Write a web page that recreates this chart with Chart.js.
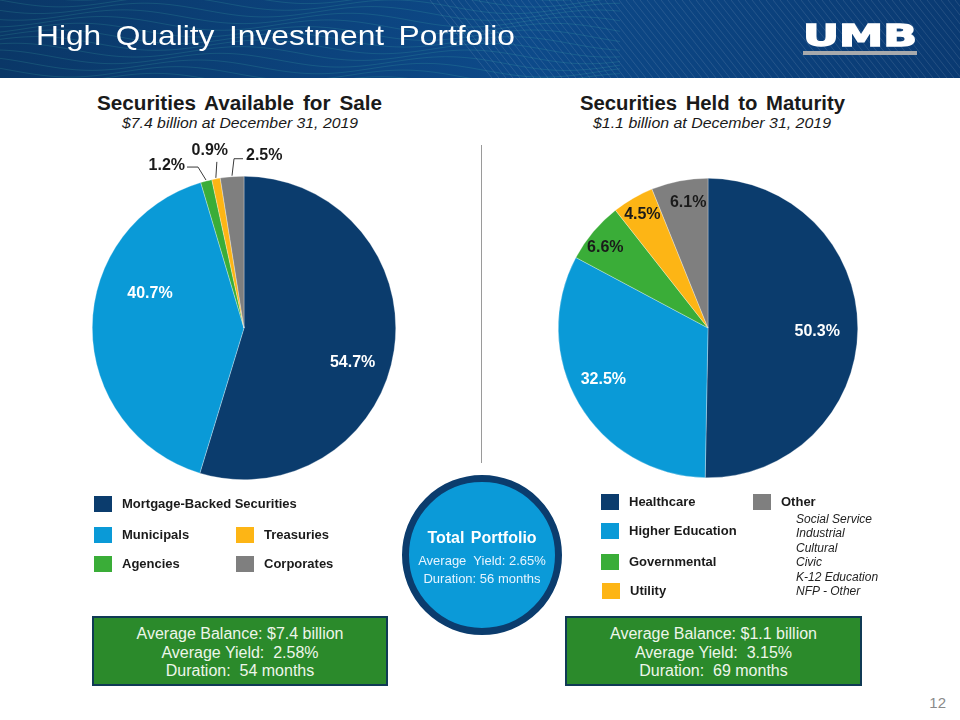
<!DOCTYPE html>
<html>
<head>
<meta charset="utf-8">
<script src="https://cdn.jsdelivr.net/npm/chart.js@4.4.1/dist/chart.umd.min.js"></script>
<style>
  body { margin: 0; width: 960px; height: 720px; position: relative; overflow: hidden; background: #fff;
         font-family: "Liberation Sans", Arial, sans-serif; color: #1a1a1a; }
  .abs { position: absolute; white-space: nowrap; }
  #header { position: absolute; left: 0; top: 0; }
  .title { color: #fff; font-size: 28px; word-spacing: 5px; line-height: 36px; transform-origin: left top; }
  .logo { color: #fff; font-family: "DejaVu Sans", sans-serif; font-weight: bold; font-size: 30px; line-height: 30px;
          transform-origin: left top; -webkit-text-stroke: 1.4px #fff; }
  .logobar { left: 803px; top: 51px; width: 114px; height: 4px; background: #a7a9ac; }
  .head { font-weight: bold; font-size: 20px; word-spacing: 3px; line-height: 24px; transform-origin: left top; }
  .sub { font-style: italic; font-size: 15px; line-height: 18px; transform-origin: left top; }
  .divider { left: 481px; top: 145px; width: 1px; height: 318px; background: #9a9a9a; }
  .sq { width: 18px; height: 16px; }
  .leg { font-weight: bold; font-size: 13px; line-height: 16px; }
  .other { font-style: italic; font-size: 12px; line-height: 14.4px; left: 796px; top: 512px; color: #222; }
  .box { background: #2b8a2b; border: 2px solid #103a55; box-sizing: border-box; color: #eef6ea;
         font-size: 16px; line-height: 18.5px; text-align: center; padding-top: 7px; }
  .total { left: 402px; top: 475px; width: 160px; height: 160px; border-radius: 50%; box-sizing: border-box;
           border: 7px solid #0b3c6d; background: #0b9ad8; color: #e6f4ff; text-align: center; }
  .total .t1 { font-weight: bold; font-size: 16px; margin-top: 46px; line-height: 20px; color: #fff; word-spacing: 2px; }
  .total .t2 { font-size: 13px; line-height: 18px; margin-top: 4px; }
  .page { right: 14px; top: 694px; font-size: 15px; color: #8a8a8a; }
  canvas.pie { position: absolute; }
</style>
</head>
<body>
<canvas id="header" width="960" height="78"></canvas>
<span class="abs title" id="title">High Quality Investment Portfolio</span>
<span class="abs logo" id="logo">UMB</span>
<div class="abs logobar"></div>

<span class="abs head" id="headL">Securities Available for Sale</span>
<span class="abs sub" id="subL">$7.4 billion at December 31, 2019</span>
<span class="abs head" id="headR">Securities Held to Maturity</span>
<span class="abs sub" id="subR">$1.1 billion at December 31, 2019</span>
<div class="abs divider"></div>

<canvas class="pie" id="afs" width="376" height="376" style="left:56px;top:140px"></canvas>
<canvas class="pie" id="htm" width="360" height="360" style="left:528px;top:148px"></canvas>

<div id="legends"></div>
<div class="abs other" id="otherList"></div>

<div class="abs total">
  <div class="t1">Total Portfolio</div>
  <div class="t2">Average&nbsp; Yield: 2.65%<br>Duration: 56 months</div>
</div>

<div class="abs box" id="boxL" style="left:92px;top:616px;width:296px;height:70px"></div>
<div class="abs box" id="boxR" style="left:565px;top:616px;width:297px;height:70px"></div>
<span class="abs page">12</span>

<script>
// Securities available for sale ($7.4 billion)
const afsLabels = ['Mortgage-Backed Securities', 'Municipals', 'Agencies', 'Treasuries', 'Corporates']
const afsValues = [54.7, 40.7, 1.2, 0.9, 2.5]
// Securities held to maturity ($1.1 billion)
const htmLabels = ['Healthcare', 'Higher Education', 'Governmental', 'Utility', 'Other']
const htmValues = [50.3, 32.5, 6.6, 4.5, 6.1]
const otherItems = ['Social Service', 'Industrial', 'Cultural', 'Civic', 'K-12 Education', 'NFP - Other']
const afsStats = ['Average Balance: $7.4 billion', 'Average Yield:  2.58%', 'Duration:  54 months']
const htmStats = ['Average Balance: $1.1 billion', 'Average Yield:  3.15%', 'Duration:  69 months']

const sliceColors = ['#0b3c6d', '#0a9ad7', '#3aad38', '#fdb515', '#7f7f7f']

// label placement per slice (style only)
const afsPlace = [
  { r: 0.75, shift: 9, color: '#ffffff' },
  { r: 0.66, shift: 20, color: '#ffffff' },
  { callout: [[-8, -13], [-19, -13]], align: 'right', tx: -2, ty: -1 },
  { callout: [[1, -16]], align: 'center', tx: -7, ty: -11 },
  { callout: [[2, -17], [11, -17]], align: 'left', tx: 3, ty: -3 }
]
const htmPlace = [
  { r: 0.73, shift: 1.5, color: '#ffffff' },
  { r: 0.78, shift: 4, color: '#ffffff' },
  { r: 0.87, shift: -2, color: '#1a1a1a' },
  { r: 0.875, shift: 0, color: '#1a1a1a' },
  { r: 0.85, shift: 2, color: '#1a1a1a' }
]
const afsLegendPos = [[94, 496], [94, 527], [94, 556], [236, 527], [236, 556]]
const htmLegendPos = [[601, 494], [601, 523], [601, 554], [602, 583], [753, 494]]

const sliceLabels = {
  id: 'sliceLabels',
  afterDatasetsDraw(chart, args, opts) {
    let ctx = chart.ctx
    let values = chart.data.datasets[0].data
    chart.getDatasetMeta(0).data.forEach((arc, i) => {
      let p = opts.place[i]
      let mid = (arc.startAngle + arc.endAngle) / 2
      let text = values[i].toFixed(1) + '%'
      ctx.save()
      ctx.font = 'bold 16px "Liberation Sans", Arial, sans-serif'
      ctx.textBaseline = 'middle'
      if (p.callout) {
        let ex = arc.x + Math.cos(mid) * (arc.outerRadius + 1)
        let ey = arc.y + Math.sin(mid) * (arc.outerRadius + 1)
        let px = ex, py = ey
        ctx.strokeStyle = '#3a3a3a'
        ctx.lineWidth = 1
        ctx.beginPath()
        ctx.moveTo(ex, ey)
        p.callout.forEach(pt => {
          px = ex + pt[0]
          py = ey + pt[1]
          ctx.lineTo(px, py)
        })
        ctx.stroke()
        ctx.textAlign = p.align
        ctx.fillStyle = '#1a1a1a'
        ctx.fillText(text, px + p.tx, py + p.ty)
      } else {
        let a = mid + p.shift * Math.PI / 180
        let r = arc.outerRadius * p.r
        ctx.textAlign = 'center'
        ctx.fillStyle = p.color
        ctx.fillText(text, arc.x + Math.cos(a) * r, arc.y + Math.sin(a) * r)
      }
      ctx.restore()
    })
  }
}

function drawPie(id, labels, values, place, pad) {
  return new Chart(document.getElementById(id), {
    type: 'pie',
    data: {
      labels: labels,
      datasets: [{
        data: values,
        backgroundColor: sliceColors,
        borderColor: 'rgba(255,255,255,0.6)',
        borderWidth: 0.5
      }]
    },
    options: {
      responsive: false,
      animation: false,
      layout: { padding: pad },
      plugins: {
        legend: { display: false },
        tooltip: { enabled: false },
        sliceLabels: { place: place }
      }
    },
    plugins: [sliceLabels]
  })
}

function drawLegend(labels, pos) {
  let holder = document.getElementById('legends')
  labels.forEach((lab, i) => {
    let sq = document.createElement('div')
    sq.className = 'abs sq'
    sq.style.left = pos[i][0] + 'px'
    sq.style.top = pos[i][1] + 'px'
    sq.style.background = sliceColors[i]
    holder.appendChild(sq)
    let tx = document.createElement('span')
    tx.className = 'abs leg'
    tx.style.left = (pos[i][0] + 28) + 'px'
    tx.style.top = pos[i][1] + 'px'
    tx.textContent = lab
    holder.appendChild(tx)
  })
}

function fill(id, lines) {
  document.getElementById(id).innerHTML = lines.map(l => l.replace(/  /g, ' &nbsp;')).join('<br>')
}

function fit(id, left, top, width) {
  let el = document.getElementById(id)
  el.style.left = left + 'px'
  el.style.top = top + 'px'
  let w = el.getBoundingClientRect().width
  el.style.transform = `scaleX(${width / w})`
}

function drawHeader() {
  let ctx = document.getElementById('header').getContext('2d')
  let g = ctx.createLinearGradient(0, 0, 960, 0)
  g.addColorStop(0, '#0a3767')
  g.addColorStop(0.55, '#0d4a8a')
  g.addColorStop(1, '#0a3a72')
  ctx.fillStyle = g
  ctx.fillRect(0, 0, 960, 78)
  ctx.lineWidth = 1
  ctx.strokeStyle = 'rgba(80,200,175,0.17)'
  for (let k = -3; k < 12; k++) {
    ctx.beginPath()
    for (let x = 0; x <= 620; x += 4) {
      let y = k * 7 + Math.sin(x / 36 + k * 0.6) * 6 + x * 0.015
      if (x == 0) ctx.moveTo(x, y)
      else ctx.lineTo(x, y)
    }
    ctx.stroke()
  }
  ctx.strokeStyle = 'rgba(255,255,255,0.11)'
  for (let x = 430; x < 980; x += 7) {
    ctx.beginPath()
    ctx.moveTo(x, 0)
    ctx.lineTo(x + 62, 78)
    ctx.stroke()
  }
}

function main() {
  drawHeader()
  fit('title', 36, 18, 479)
  fit('logo', 803, 21, 114)
  fit('headL', 97, 91, 285)
  fit('subL', 122, 114, 236)
  fit('headR', 580, 91, 265)
  fit('subR', 593, 114, 238)

  drawPie('afs', afsLabels, afsValues, afsPlace, 36)
  drawPie('htm', htmLabels, htmValues, htmPlace, 30)
  drawLegend(afsLabels, afsLegendPos)
  drawLegend(htmLabels, htmLegendPos)
  document.getElementById('otherList').innerHTML = otherItems.join('<br>')
  fill('boxL', afsStats)
  fill('boxR', htmStats)
}

main()
</script>
</body>
</html>
